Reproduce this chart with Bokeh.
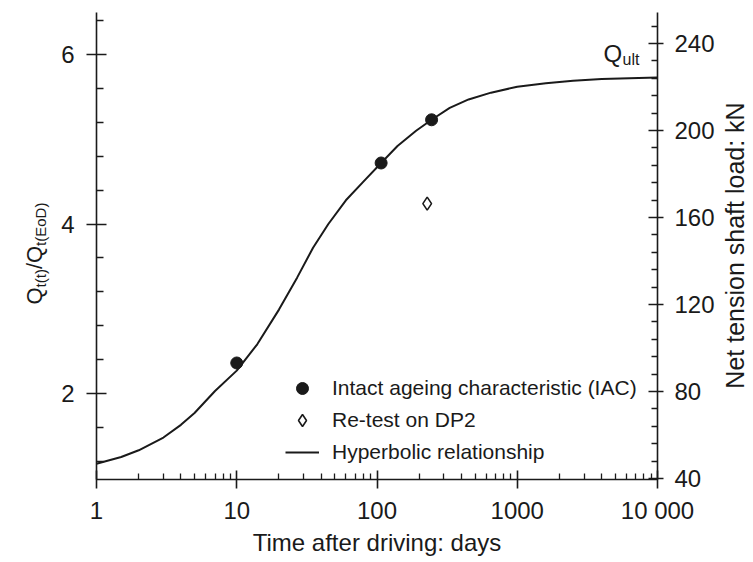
from bokeh.plotting import figure
from bokeh.layouts import row
from bokeh.models import (Range1d, LinearAxis, FixedTicker, Label, Legend,
                          LegendItem)
from bokeh.core.properties import value
from bokeh.embed import file_html
from bokeh.resources import INLINE
import math

# ---- data ----
iac_time = [10, 107, 245]
iac_ratio = [2.36, 4.72, 5.23]
retest_time = [228]
retest_ratio = [4.24]
curve_time = [1, 1.5, 2, 3, 4, 5, 7, 10, 14, 20, 27, 35, 45, 60, 80, 107, 140,
              190, 245, 330, 450, 650, 1000, 1600, 2500, 4000, 6300, 10000]
curve_ratio = [1.17, 1.25, 1.33, 1.48, 1.63, 1.77, 2.03, 2.27, 2.58, 2.99, 3.37,
               3.72, 4.00, 4.28, 4.50, 4.72, 4.92, 5.10, 5.23, 5.37, 5.47, 5.55,
               5.62, 5.66, 5.69, 5.71, 5.72, 5.73]

x_ticks = [1, 10, 100, 1000, 10000]
x_tick_labels = ["1", "10", "100", "1000", "10 000"]
x_minor = [m * d for d in [1, 10, 100, 1000] for m in range(2, 10)]
left_ticks = [2, 4, 6]
left_minor = [1.2, 1.6, 2.4, 2.8, 3.2, 3.6, 4.4, 4.8, 5.2, 5.6, 6.4]
right_ticks = [40, 80, 120, 160, 200, 240]
right_minor = [48, 56, 64, 72, 88, 96, 104, 112, 128, 136, 144, 152, 168, 176,
               184, 192, 208, 216, 224, 232, 248]

FONT = "Liberation Sans"
INK = "#1a1a1a"
TOTAL_H = 561
LABEL_W = 50
RIGHT_BORDER = 62
RIGHT_W = 34

p = figure(x_axis_type="log", x_range=Range1d(1, 10000),
           y_range=Range1d(0.985, 6.496),
           frame_width=561, frame_height=467,
           min_border_left=96 - LABEL_W, min_border_right=RIGHT_BORDER,
           min_border_top=12, min_border_bottom=TOTAL_H - 12 - 467,
           output_backend="svg", toolbar_location=None)
p.grid.visible = False
p.outline_line_color = None
p.background_fill_color = "white"
p.border_fill_color = "white"

p.extra_y_ranges = {"kN": Range1d(39.54, 254.25)}


def style_axis(ax, tin, tout, mtin, label_standoff):
    ax.axis_line_color = INK
    ax.axis_line_width = 1.6
    ax.major_tick_line_color = INK
    ax.major_tick_line_width = 1.6
    ax.minor_tick_line_color = INK
    ax.minor_tick_line_width = 1.3
    ax.major_tick_in = tin
    ax.major_tick_out = tout
    ax.minor_tick_in = mtin
    ax.minor_tick_out = 0
    ax.major_label_text_font = FONT
    ax.major_label_text_font_size = "24px"
    ax.major_label_text_color = INK
    ax.major_label_standoff = label_standoff
    ax.axis_label_text_font = FONT
    ax.axis_label_text_font_size = "24px"
    ax.axis_label_text_font_style = "normal"
    ax.axis_label_text_color = INK


xa = p.xaxis[0]
xa.ticker = FixedTicker(ticks=x_ticks, minor_ticks=x_minor)
xa.major_label_overrides = {t: s for t, s in zip(x_ticks, x_tick_labels)}
style_axis(xa, 9, 9, 6, 8)
xa.axis_label = "Time after driving: days"
xa.axis_label_standoff = 2

ya = p.yaxis[0]
ya.ticker = FixedTicker(ticks=left_ticks, minor_ticks=left_minor)
style_axis(ya, 10, 10, 7, 12)

ra = LinearAxis(y_range_name="kN",
                ticker=FixedTicker(ticks=right_ticks, minor_ticks=right_minor))
style_axis(ra, 9, 6, 6, 11)
p.add_layout(ra, "right")

# ---- data ----
line_r = p.line(curve_time, curve_ratio, line_color=INK, line_width=2)
iac_r = p.scatter(iac_time, iac_ratio, marker="circle", size=12,
                  fill_color=INK, line_color=INK)
re_r = p.scatter(retest_time, retest_ratio, marker="diamond", size=13,
                 fill_color="white", line_color=INK, line_width=1.6)

legend = Legend(items=[
    LegendItem(label="Intact ageing characteristic (IAC)", renderers=[iac_r]),
    LegendItem(label="Re-test on DP2", renderers=[re_r]),
    LegendItem(label="Hyperbolic relationship", renderers=[line_r]),
], location=(189, 12), padding=0, margin=0, spacing=2,
    glyph_width=34, glyph_height=30, label_height=22, label_standoff=13,
    label_text_font=FONT, label_text_font_size="21px", label_text_color=INK,
    border_line_color=None, background_fill_alpha=0)
p.add_layout(legend, "center")

# Q_ult
p.add_layout(Label(x=507, y=426, x_units="screen", y_units="screen",
                   text="Q", text_font=FONT, text_font_size="24px",
                   text_color=INK, text_baseline="alphabetic"))
p.add_layout(Label(x=526, y=420, x_units="screen", y_units="screen",
                   text="ult", text_font=FONT, text_font_size="16px",
                   text_color=INK, text_baseline="alphabetic"))


def side_panel(width):
    f = figure(x_range=Range1d(0, width), y_range=Range1d(0, TOTAL_H),
               frame_width=width, frame_height=TOTAL_H,
               min_border_left=0, min_border_right=0,
               min_border_top=0, min_border_bottom=0,
               x_axis_location=None, y_axis_location=None,
               output_backend="svg", toolbar_location=None)
    f.grid.visible = False
    f.outline_line_color = None
    f.background_fill_color = "white"
    f.border_fill_color = "white"
    return f


# ---- left composite axis label  Q_t(t)/Q_t(EoD) ----
lp = side_panel(LABEL_W)
lp.text(x=[34, 34], y=[269, 304.4], text=["Q", "/Q"], angle=math.pi / 2,
        text_font=value(FONT), text_font_size="22px", text_color=INK,
        text_align="left", text_baseline="alphabetic")
lp.text(x=[40, 40], y=[286.1, 327.6], text=["t(t)", "t(EoD)"],
        angle=math.pi / 2, text_font=value(FONT), text_font_size="15px",
        text_color=INK, text_align="left", text_baseline="alphabetic")

# ---- right axis title, reading upwards ----
rp = side_panel(RIGHT_W)
rp.text(x=[15], y=[328], text=["Net tension shaft load: kN"],
        angle=math.pi / 2, text_font=value(FONT), text_font_size="25px",
        text_color=INK, text_align="center", text_baseline="middle")

layout = row(lp, p, rp)
open("out.html", "w").write(file_html(layout, INLINE))
